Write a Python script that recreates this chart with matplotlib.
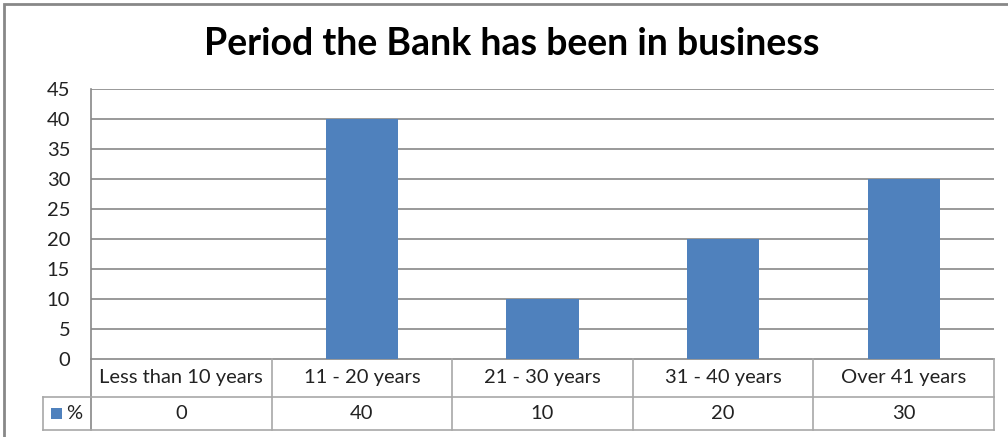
import matplotlib
matplotlib.use("Agg")
import matplotlib.pyplot as plt
from matplotlib.patches import Rectangle

# data
categories = ["Less than 10 years", "11 - 20 years", "21 - 30 years", "31 - 40 years", "Over 41 years"]
values = [0, 40, 10, 20, 30]
series_name = "%"
title = "Period the Bank has been in business"
yticks = [0, 5, 10, 15, 20, 25, 30, 35, 40, 45]

BAR = "#4F81BD"
GRID = "#888888"
TBL = "#A8A8A8"
FONT = "Lato"
FS = 14.5

W, H = 1008, 437
fig = plt.figure(figsize=(W / 100, H / 100), dpi=100)
plt.rcParams["font.family"] = [FONT, "DejaVu Sans"]

# outer chart border
fig.patches.append(Rectangle((4 / W, -0.05), 1.1, 1 - 4 / H + 0.05, transform=fig.transFigure,
                             fill=False, edgecolor=GRID, linewidth=2))

# plot area in pixels: x 91..994, y 89..359
ax = fig.add_axes([91 / W, 1 - 359 / H, (994 - 91) / W, (359 - 89) / H])
n = len(categories)
xs = [i + 0.5 for i in range(n)]
ax.bar(xs, values, width=0.4, color=BAR, zorder=3)
ax.set_xlim(0, n)
ax.set_ylim(0, 45)
ax.set_yticks(yticks)
ax.set_yticklabels([str(t) for t in yticks], fontsize=FS, color="#222222")
ax.tick_params(axis="y", length=0, pad=15)
ax.tick_params(axis="x", length=0, labelbottom=False)
for yv in yticks[1:]:
    ax.axhline(yv, color=GRID, linewidth=1.2, zorder=1)
for s in ["top", "right", "bottom", "left"]:
    ax.spines[s].set_visible(False)

# data table under the axis
tr = ax.get_xaxis_transform()
row1 = -38 / 270
row2 = -71 / 270
xl = -48 / ((994 - 91) / n)
kw = dict(transform=tr, clip_on=False)
ax.plot([0, n], [0, 0], color=GRID, linewidth=1.2, zorder=2, **kw)
ax.plot([0, 0], [1, row2], color=GRID, linewidth=1.2, zorder=2, **kw)
for yv in (row1, row2):
    ax.plot([xl, n], [yv, yv], color=TBL, linewidth=1.2, **kw)
for i in range(1, n + 1):
    ax.plot([i, i], [0, row2], color=TBL, linewidth=1.2, **kw)
ax.plot([xl, xl], [row1, row2], color=TBL, linewidth=1.2, **kw)
for x, c, v in zip(xs, categories, values):
    ax.text(x, row1 / 2, c, ha="center", va="center", fontsize=FS, color="#222222", **kw)
    ax.text(x, (row1 + row2) / 2, str(v), ha="center", va="center", fontsize=FS, color="#222222", **kw)
ax.add_patch(Rectangle((xl + 0.045, (row1 + row2) / 2 - 0.02), 0.062, 0.042, facecolor=BAR,
                       transform=tr, clip_on=False))
ax.text(xl + 0.13, (row1 + row2) / 2, series_name, ha="left", va="center", fontsize=FS,
        color="#222222", **kw)

fig.text(512 / W, 1 - 44 / H, title, ha="center", va="center", fontsize=27, fontweight="bold",
         color="black")

fig.savefig("out.png", dpi=100)
